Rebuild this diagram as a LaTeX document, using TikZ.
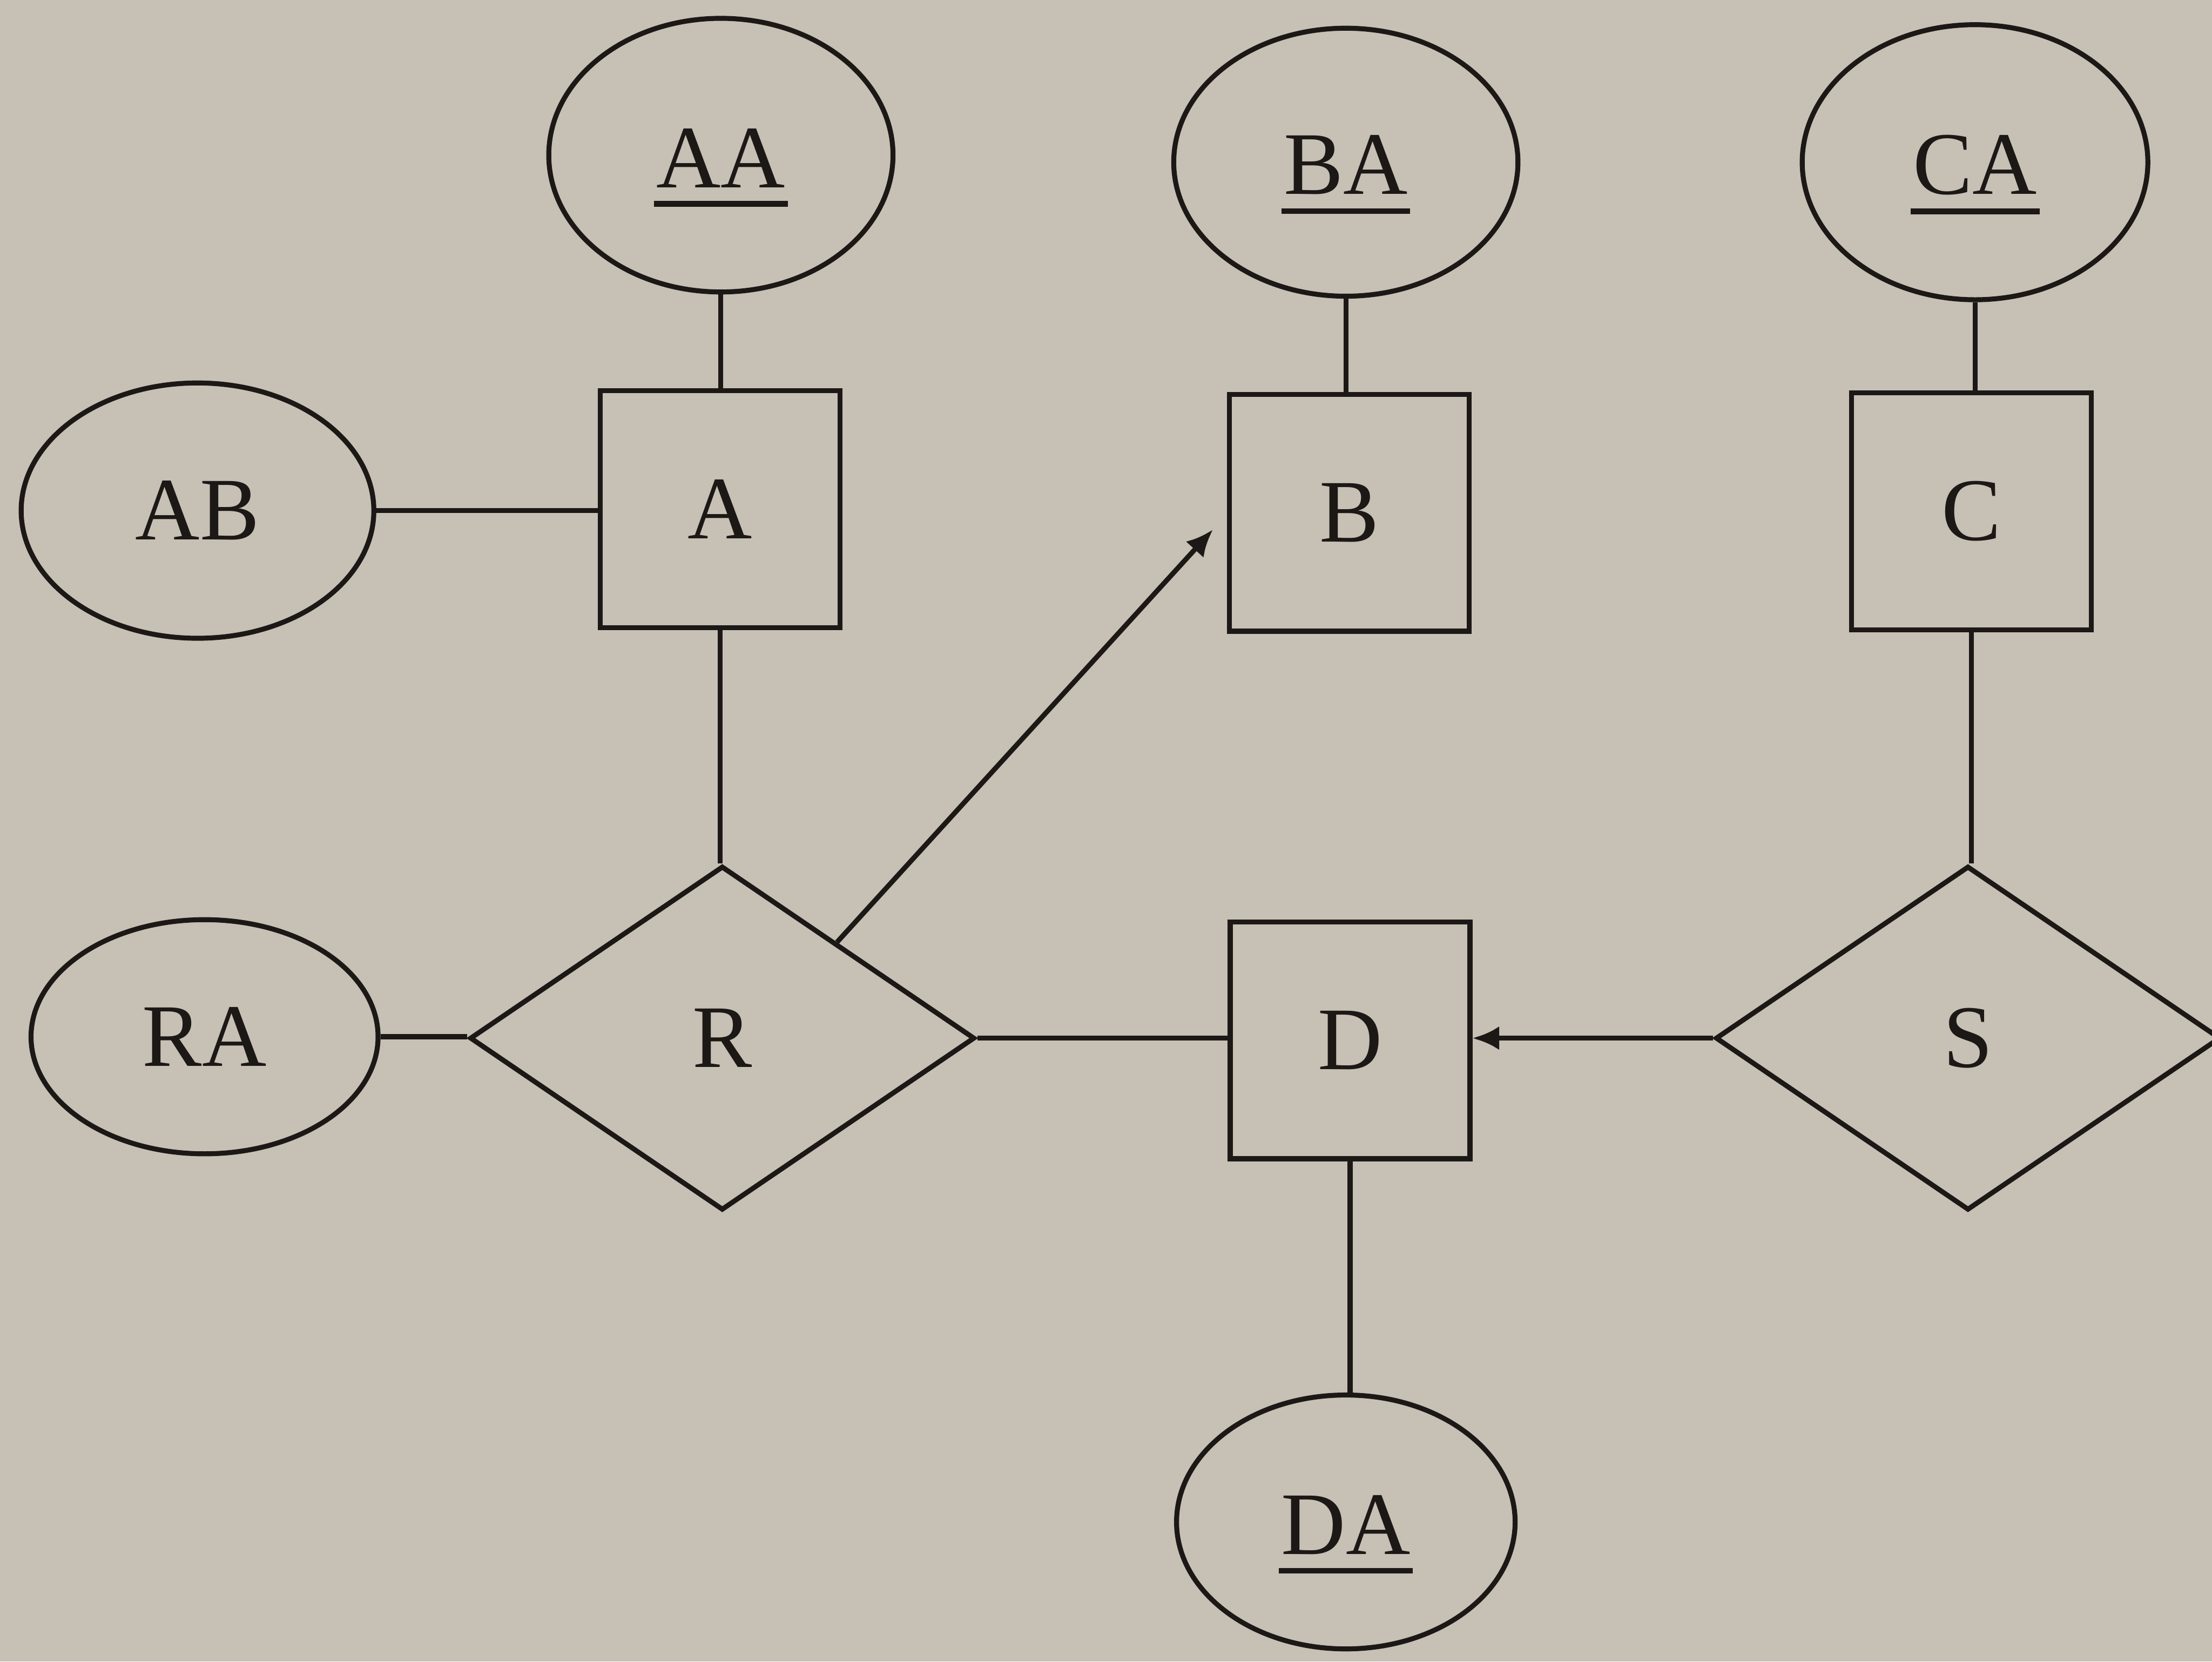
\documentclass[tikz,border=0pt]{standalone}
\usepackage{fontspec}
\setmainfont{Liberation Serif}
\usetikzlibrary{shapes.geometric,arrows.meta,calc}
\definecolor{paper}{RGB}{198,192,181}
\definecolor{ink}{RGB}{28,24,22}
\newcommand\keyul[1]{\raisebox{-5pt}[\height][\depth]{\vtop{\hbox{\kern1pt#1\kern1pt}\kern5.5pt\hrule height 2.2pt}}}
\begin{document}
\begin{tikzpicture}[
  every node/.style={font=\fontsize{36}{40}\selectfont, text=ink},
  conn/.style={draw=ink, line width=2pt},
  attr/.style={draw=ink, line width=2pt, ellipse, inner sep=0pt},
  ent/.style={draw=ink, line width=2pt, rectangle, minimum width=3.4cm, minimum height=3.36cm, inner sep=0pt},
  rel/.style={draw=ink, line width=2pt, diamond, minimum width=7.16cm, minimum height=4.88cm, inner sep=0pt},
  arr/.style={conn, -{Latex[length=0.38cm,width=0.34cm]}}
]
\fill[paper] (0,0) rectangle (31.36,-23.56);
\useasboundingbox (0,0) rectangle (31.36,-23.56);
\clip (0,0) rectangle (31.36,-23.56);

% attributes
\node[attr, minimum width=4.88cm, minimum height=3.88cm] (AA) at (10.22,-2.20) {\keyul{AA}};
\node[attr, minimum width=4.88cm, minimum height=3.80cm] (BA) at (19.08,-2.30) {\keyul{BA}};
\node[attr, minimum width=4.90cm, minimum height=3.90cm] (CA) at (28.00,-2.30) {\keyul{CA}};
\node[attr, minimum width=5.00cm, minimum height=3.62cm] (AB) at (2.80,-7.24) {AB};
\node[attr, minimum width=4.92cm, minimum height=3.32cm] (RA) at (2.90,-14.70) {RA};
\node[attr, minimum width=4.80cm, minimum height=3.60cm] (DA) at (19.08,-21.58) {\keyul{DA}};

% entities
\node[ent] (A) at (10.21,-7.22) {A};
\node[ent] (B) at (19.13,-7.27) {B};
\node[ent] (C) at (27.95,-7.25) {C};
\node[ent] (D) at (19.14,-14.75) {D};

% relationships
\node[rel] (R) at (10.24,-14.72) {R};
\node[rel] (S) at (27.90,-14.72) {S};

% connectors
\draw[conn] (AA.south) -- (AA.south |- A.north);
\draw[conn] (BA.south) -- (BA.south |- B.north);
\draw[conn] (CA.south) -- (CA.south |- C.north);
\draw[conn] (AB.east) -- (AB.east -| A.west);
\draw[conn] (A.south) -- (A.south |- R.north);
\draw[conn] (C.south) -- (C.south |- S.north);
\draw[conn] (RA.east) -- (RA.east -| R.west);
\draw[conn] (R.east) -- (R.east -| D.west);
\draw[conn] (D.south) -- (D.south |- DA.north);
\draw[arr] (S.west) -- (S.west -| D.east);
\coordinate (rb) at ($(R.north)!0.45!(R.east)$);
\coordinate (bt) at ([xshift=-0.2cm,yshift=-0.24cm]B.west);
\draw[arr] (rb) -- (bt);
\end{tikzpicture}
\end{document}
